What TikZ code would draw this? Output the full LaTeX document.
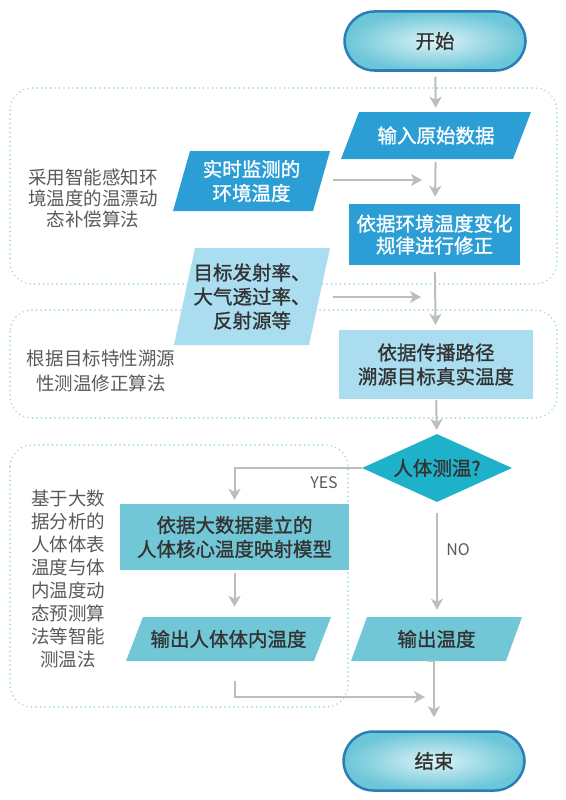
\documentclass[tikz,border=0pt]{standalone}
\usepackage{fontspec}
\setmainfont{Noto Sans CJK SC}
\newfontfamily\cjkb{Noto Sans CJK SC}[FakeBold=1.2]
\newfontfamily\cjkr{Noto Sans CJK SC}
\usetikzlibrary{shapes.geometric,arrows.meta}
\definecolor{dblue}{HTML}{2B9ED6}
\definecolor{lblue}{HTML}{AADDF0}
\definecolor{tealA}{HTML}{1DB2CA}
\definecolor{tealB}{HTML}{72C7D7}
\definecolor{tbord}{HTML}{2A7DB7}
\definecolor{tout}{HTML}{6BC6D8}
\definecolor{tin}{HTML}{DDF3F6}
\definecolor{arrc}{HTML}{BDBDBD}
\definecolor{dotc}{HTML}{8ED2DE}
\definecolor{txt}{HTML}{333333}
\definecolor{labc}{HTML}{5A5A5A}
\tikzset{
  term/.style={rectangle, rounded corners=30pt, minimum width=181pt, minimum height=59pt,
    draw=tbord, line width=2.5pt, inner color=tin, outer color=tout,
    font=\cjkb\fontsize{19.5}{24}\selectfont, text=txt},
  plg/.style n args={4}{rectangle, inner sep=0pt, minimum width=#2pt, minimum height=#3pt,
    path picture={\fill[#1] ([xshift=#4pt]path picture bounding box.north west)
      -- (path picture bounding box.north east)
      -- ([xshift=-#4pt]path picture bounding box.south east)
      -- (path picture bounding box.south west) -- cycle;}},
  boxtxt/.style={font=\cjkb\fontsize{19.5}{24}\selectfont, align=center},
  rbox/.style={rectangle, inner sep=0pt},
  labtxt/.style={font=\cjkr\fontsize{18.5}{#1}\selectfont, align=center, text=labc},
  yn/.style={font=\cjkr\fontsize{16}{20}\selectfont, text=labc},
  arr/.style={draw=arrc, line width=2pt, -{Stealth[length=11pt,width=12pt,inset=3pt]}},
  dotbox/.style={draw=dotc, line width=1.6pt, line cap=round, dash pattern=on 0pt off 4.5pt, rounded corners=22pt}
}
\begin{document}
\begin{tikzpicture}[x=1pt,y=-1pt]
\fill[white] (0,0) rectangle (565,800);
\useasboundingbox (0,0) rectangle (565,800);

% dotted group boxes
\draw[dotbox] (10,88) rectangle (557,284);
\draw[dotbox] (10,310) rectangle (557,418);
\draw[dotbox] (10,445) rectangle (348,707);

% nodes
\node[term] (start) at (435,41) {开始};
\node[plg={dblue}{190}{47}{18}, boxtxt, text=white] (in) at (436,135.5) {输入原始数据};
\node[plg={dblue}{157}{60}{17}, boxtxt, text=white] (env) at (251.5,181) {实时监测的\\环境温度};
\node[rbox, fill=dblue, minimum width=171pt, minimum height=61pt, boxtxt, text=white,
      font=\cjkb\fontsize{19.5}{22}\selectfont] (corr) at (434.5,234.5) {依据环境温度变化\\规律进行修正};
\node[plg={lblue}{156}{97}{21}, boxtxt, text=txt] (par) at (252,296.5) {目标发射率、\\大气透过率、\\反射源等};
\node[rbox, fill=lblue, minimum width=194pt, minimum height=69pt, boxtxt, text=txt] (trace) at (436,364.5) {依据传播路径\\溯源目标真实温度};
\node[diamond, fill=tealA, minimum width=150pt, minimum height=68pt, inner sep=0pt, aspect=2.2, boxtxt, text=txt] (dec) at (437,468) {人体测温?};
\node[rbox, fill=tealB, minimum width=229pt, minimum height=66pt, boxtxt, text=txt] (model) at (234.5,537) {依据大数据建立的\\人体核心温度映射模型};
\node[plg={tealB}{205}{44}{17}, boxtxt, text=txt] (outb) at (228.5,639) {输出人体体内温度};
\node[plg={tealB}{171}{44}{16}, boxtxt, text=txt] (outt) at (436.5,639) {输出温度};
\node[term] (end) at (434,761) {结束};

% side labels
\node[labtxt=21] (l1) at (93,198) {采用智能感知环\\境温度的温漂动\\态补偿算法};
\node[labtxt=25] (l2) at (101,370.5) {根据目标特性溯源\\性测温修正算法};
\node[labtxt=23] (l3) at (68,578.5) {基于大数\\据分析的\\人体体表\\温度与体\\内温度动\\态预测算\\法等智能\\测温法};

% free ends
\coordinate (c1) at (422,180);
\coordinate (c2) at (421,297);
\coordinate (c3) at (425,697);

% connectors
\draw[arr, shorten <=5pt, shorten >=4pt] (start) -- (in);
\draw[arr, shorten <=3pt, shorten >=7pt] (in) -- (corr);
\draw[arr] ([xshift=3pt]env.east |- c1) -- (c1);
\draw[arr, shorten <=7pt, shorten >=5pt] (corr) -- (trace);
\draw[arr] ([xshift=3pt]par.east |- c2) -- (c2);
\draw[arr, shorten <=1pt, shorten >=4pt] (trace) -- (dec);
\draw[arr, shorten >=4pt] (dec.west) -| (model.north);
\node[yn] (yes) at (324,483) {YES};
\draw[arr, shorten <=3pt, shorten >=10pt] (model.south) -- (model.south |- outb.north);
\draw[arr, shorten <=11pt, shorten >=7pt] (dec.south) -- (dec.south |- outt.north);
\node[yn] (no) at (458,550) {NO};
\draw[arr, shorten <=9pt, shorten >=13pt] (outt.south) -- (outt.south -| end.north) -- (end.north);
\draw[arr] ([yshift=-20pt]model.south |- outb.south) |- (c3);
\end{tikzpicture}
\end{document}
